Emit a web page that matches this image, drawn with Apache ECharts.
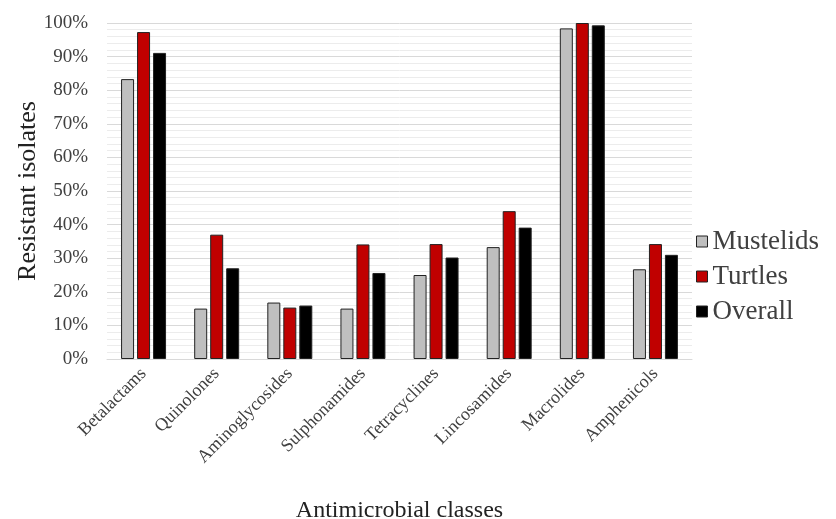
<!DOCTYPE html>
<html><head><meta charset="utf-8">
<script src="https://cdn.jsdelivr.net/npm/echarts@6/dist/echarts.min.js"></script>
<style>html,body{margin:0;padding:0;background:#fff}#c{width:836px;height:519px}</style>
</head><body><div id="c"></div>
<script>
const categories = ["Betalactams","Quinolones","Aminoglycosides","Sulphonamides","Tetracyclines","Lincosamides","Macrolides","Amphenicols"];
const mustelids = [83.3, 15.0, 16.8, 15.0, 25.0, 33.3, 98.4, 26.7];
const turtles = [97.3, 37.0, 15.3, 34.1, 34.2, 44.0, 100, 34.2];
const overall = [91.1, 27.0, 15.9, 25.6, 30.2, 39.1, 99.3, 31.0];
const yTicks = [0,10,20,30,40,50,60,70,80,90,100];

const font = '"Liberation Serif", "Times New Roman", serif';
const txt = '#404040';
function bar(name, data, color){
  return {name, type:'bar', data, barWidth:13, barGap:'23%',
    itemStyle:{color, borderColor:'#222', borderWidth:1}};
}
const chart = echarts.init(document.getElementById('c'), null, {renderer:'canvas'});
chart.setOption({
  animation:false,
  grid:{left:107, right:144, top:23, bottom:160, outerBoundsMode:'none', containLabel:false},
  legend:{orient:'vertical', left:691, top:223, itemWidth:11, itemHeight:11, itemGap:8, icon:'rect',
    textStyle:{fontFamily:font, fontSize:27, color:txt},
    itemStyle:{borderColor:'#222', borderWidth:1},
    data:['Mustelids','Turtles','Overall']},
  xAxis:{type:'category', data:categories,
    axisLine:{lineStyle:{color:'#d9d9d9'}}, axisTick:{show:false},
    axisLabel:{rotate:45, fontFamily:font, fontSize:18, color:txt, margin:12, interval:0},
    name:'Antimicrobial classes', nameLocation:'middle', nameGap:140, nameMoveOverlap:false,
    nameTextStyle:{fontFamily:font, fontSize:24, color:'#222'}},
  yAxis:{type:'value', min:0, max:100, interval:10,
    axisLine:{show:false}, axisTick:{show:false},
    axisLabel:{formatter:v=>yTicks.includes(v)?v+'%':'', fontFamily:font, fontSize:19, color:txt, margin:19},
    splitLine:{lineStyle:{color:'#d9d9d9'}},
    minorTick:{show:false, splitNumber:5},
    minorSplitLine:{show:true, lineStyle:{color:'#ececec'}},
    name:'Resistant isolates', nameLocation:'middle', nameGap:66, nameMoveOverlap:false,
    nameTextStyle:{fontFamily:font, fontSize:26, color:'#222'}},
  series:[bar('Mustelids', mustelids, '#bfbfbf'), bar('Turtles', turtles, '#c00000'), bar('Overall', overall, '#000000')]
});
</script></body></html>
